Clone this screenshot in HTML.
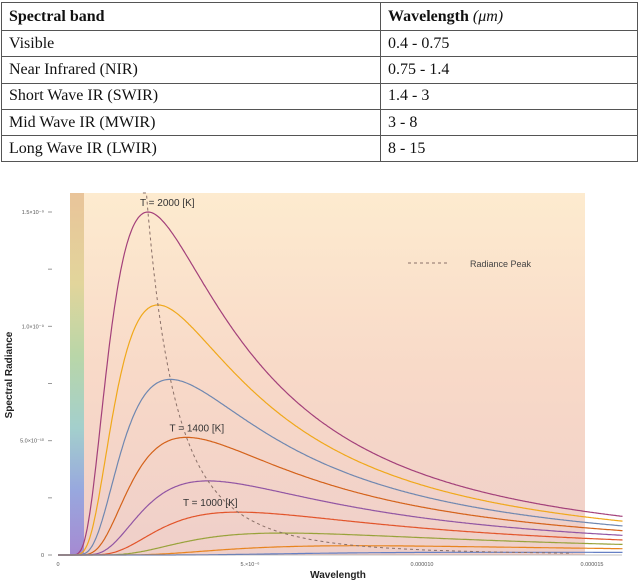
<!DOCTYPE html>
<html><head><meta charset="utf-8"><style>
body{margin:0;width:640px;height:581px;background:#fff;overflow:hidden;font-family:"Liberation Serif",serif}
table{position:absolute;left:1px;top:2px;width:637px;border-collapse:collapse;font-size:16px;color:#111}
td{border:1px solid #555;height:26.3px;padding:0 0 0 7px;box-sizing:border-box}
td:first-child{width:379px}
th{font-weight:bold;text-align:left;border:1px solid #555;height:27px;padding:0 0 0 7px}
svg{position:absolute;left:0;top:0}
</style></head><body>
<table>
<tr><th>Spectral band</th><th>Wavelength <span style="font-weight:normal;font-style:italic">(μm)</span></th></tr>
<tr><td>Visible</td><td>0.4 - 0.75</td></tr>
<tr><td>Near Infrared (NIR)</td><td>0.75 - 1.4</td></tr>
<tr><td>Short Wave IR (SWIR)</td><td>1.4 - 3</td></tr>
<tr><td>Mid Wave IR (MWIR)</td><td>3 - 8</td></tr>
<tr><td>Long Wave IR (LWIR)</td><td>8 - 15</td></tr>
</table>
<svg id="chart" width="640" height="581">
<defs>
<linearGradient id="bg" x1="0" y1="0" x2="0" y2="1"><stop offset="0" stop-color="#fdebcf"/><stop offset="0.5" stop-color="#f8d9c8"/><stop offset="1" stop-color="#efcfc9"/></linearGradient>
<linearGradient id="rb" x1="0" y1="0" x2="0" y2="1"><stop offset="0" stop-color="#e9c49a"/><stop offset="0.25" stop-color="#e2d59b"/><stop offset="0.45" stop-color="#b9d6a8"/><stop offset="0.65" stop-color="#a3cfcc"/><stop offset="0.82" stop-color="#98a8de"/><stop offset="1" stop-color="#a58ad2"/></linearGradient>
</defs>
<rect x="84" y="193" width="501" height="362" fill="url(#bg)"/>
<rect x="70" y="193" width="14" height="362" fill="url(#rb)"/>
<g id="g" font-family="Liberation Sans, sans-serif"></g>
</svg>
<script>
const temps=[2000,1800,1600,1400,1200,1000,800,600,400];
const colors=["#a3407a","#f0a81a","#6f87b0","#d4621a","#9155a3","#e2542a","#98a23a","#e8841f","#6680c4"];
const yTickLabels=["0","","5.0×10⁻¹⁰","","1.0×10⁻⁹","","1.5×10⁻⁹"];
const yTickVals=[0,0.25,0.5,0.75,1.0,1.25,1.5];
const xTickLabels=["0","5.×10⁻⁶","0.000010","0.000015"];
const xTickPos=[58,250,422,592];
const labeled=[[2000,"T = 2000 [K]",-8],[1400,"T = 1400 [K]",-17],[1000,"T = 1000 [K]",-55]];
const NS="http://www.w3.org/2000/svg",g=document.getElementById('g');
const y0=555,H=343/1.5;
const xs=l=>58+62.1*l; // l in micrometers
const ys=v=>y0-v*H;
const b=2898,C=2.821,N=3,RP=Math.pow(1,-N)/(Math.exp(C)-1);
function rad(l,T){const u=l/(b/T);const f=Math.pow(u,-N)/(Math.exp(C/u)-1);return 1.5*Math.pow(T/2000,3)*f/RP;}
function mk(tag,at){const e=document.createElementNS(NS,tag);for(const k in at)e.setAttribute(k,at[k]);g.appendChild(e);return e;}
temps.forEach((T,i)=>{let d="M58,"+y0;for(let l=0.03;l<=9.1;l+=0.02){const x=xs(l);d+=" L"+x.toFixed(1)+","+ys(rad(l,T)).toFixed(1);}
const p=mk('path',{d:d,fill:'none',stroke:colors[i],'stroke-width':1.2});

});
let dd="";for(let T=2120;T>=300;T-=10){const l=b/T;const x=xs(l);if(x>585)break;dd+=(dd?" L":"M")+x.toFixed(1)+","+Math.max(193,ys(rad(l,T))).toFixed(1);}
const pk=mk('path',{d:dd,fill:'none',stroke:'#8a7068','stroke-width':1,'stroke-dasharray':'3,3'});


labeled.forEach(([T,s,off])=>{const l=b/T;const t=mk('text',{x:xs(l)+off,y:ys(rad(l,T))-6,'font-size':10,fill:'#333'});t.textContent=s;

});
yTickVals.forEach((v,i)=>{const y=ys(v);mk('line',{x1:48,x2:52,y1:y,y2:y,stroke:'#999'});if(yTickLabels[i]){const t=mk('text',{x:44,y:y+2,'font-size':5.5,'text-anchor':'end',fill:'#555'});t.textContent=yTickLabels[i];

}});
mk('line',{x1:58,x2:622,y1:y0,y2:y0,stroke:'#888','stroke-width':0.6});
xTickLabels.forEach((s,i)=>{const t=mk('text',{x:xTickPos[i],y:566,'font-size':5.5,'text-anchor':'middle',fill:'#555'});t.textContent=s;

});
const xt=mk('text',{x:338,y:578,'font-size':10,'font-weight':'bold','text-anchor':'middle',fill:'#222'});xt.textContent="Wavelength";


const yt=mk('text',{x:12,y:375,'font-size':10,'font-weight':'bold','text-anchor':'middle',fill:'#222',transform:'rotate(-90 12 375)'});yt.textContent="Spectral Radiance";


mk('line',{x1:408,x2:450,y1:263,y2:263,stroke:'#8a7068','stroke-dasharray':'3,3'});
const lt=mk('text',{x:470,y:267,'font-size':9,fill:'#444'});lt.textContent="Radiance Peak";


</script>
</body></html>
